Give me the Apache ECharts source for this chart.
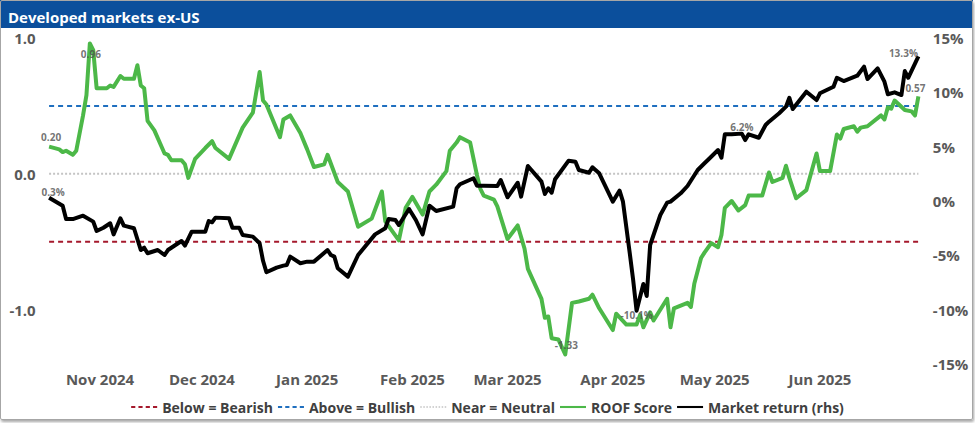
<!DOCTYPE html>
<html>
<head>
<meta charset="utf-8">
<script src="https://cdn.jsdelivr.net/npm/echarts@6/dist/echarts.min.js"></script>
<style>
html,body{margin:0;padding:0;background:#fff;}
#chart{position:absolute;left:0;top:0;width:975px;height:423px;}
#frame{position:absolute;left:0;top:0;width:971px;height:418px;border:1px solid #a6a6a6;border-radius:2px;box-shadow:1px 2px 3px rgba(0,0,0,0.35);pointer-events:none;}
</style>
</head>
<body>
<div id="chart"></div>
<div id="frame"></div>
<script>
// x values are day offsets from 2024-11-01
const monthTicks = [0, 30, 61, 92, 120, 151, 181, 212];
const monthLabels = ['Nov 2024', 'Dec 2024', 'Jan 2025', 'Feb 2025', 'Mar 2025', 'Apr 2025', 'May 2025', 'Jun 2025'];

const roofDays = [
  -15,-12,-11,-10,-8,-7,-5,-4,-3,-2,
  -1,2,3,4,6,7,10,11,12,13,
  14,16,19,20,21,24,25,26,28,31,
  33,34,38,42,45,47,48,49,53,54,
  56,59,61,63,66,67,70,73,76,80,
  83,84,88,90,92,95,97,99,102,103,
  105,106,109,111,112,113,116,117,120,123,
  125,126,130,131,132,133,135,137,139,141,
  144,145,147,151,152,155,158,159,160,162,
  163,167,168,169,173,174,175,177,178,180,
  182,183,184,186,188,190,191,195,197,198,
  201,202,203,205,208,211,212,215,217,218,
  219,222,223,224,226,230,231,232,233,234,
  237,239,240,241
];
const roofValues = [
  0.20,0.18,0.16,0.17,0.14,0.17,0.43,0.58,0.96,0.91,
  0.63,0.63,0.65,0.64,0.72,0.70,0.70,0.80,0.65,0.63,
  0.39,0.32,0.15,0.14,0.10,0.10,0.07,-0.03,0.11,0.19,
  0.24,0.19,0.11,0.34,0.45,0.75,0.54,0.51,0.27,0.40,
  0.43,0.30,0.18,0.05,0.07,0.14,-0.06,-0.13,-0.39,-0.33,
  -0.13,-0.35,-0.49,-0.25,-0.17,-0.30,-0.13,-0.08,0.02,0.17,
  0.23,0.27,0.23,-0.01,-0.11,-0.16,-0.19,-0.24,-0.48,-0.38,
  -0.55,-0.70,-0.92,-1.06,-1.05,-1.21,-1.22,-1.33,-0.95,-0.94,
  -0.92,-0.89,-0.99,-1.15,-1.03,-1.11,-1.11,-1.04,-1.13,-1.02,
  -1.08,-0.92,-1.13,-0.99,-0.95,-0.98,-0.81,-0.62,-0.58,-0.51,
  -0.54,-0.45,-0.25,-0.20,-0.27,-0.23,-0.16,-0.16,0.01,-0.06,
  -0.03,0.06,-0.03,-0.18,-0.12,0.15,0.02,0.02,0.29,0.26,
  0.33,0.35,0.31,0.34,0.35,0.43,0.40,0.49,0.48,0.54,
  0.47,0.46,0.43,0.57
];

const retDays = [
  -15,-13,-11,-10,-8,-5,-2,-1,1,3,
  4,6,7,10,12,13,14,17,19,20,
  24,25,27,31,32,33,34,38,39,41,
  42,45,47,48,49,52,54,55,56,59,
  61,63,67,68,69,70,73,76,78,81,
  84,85,87,88,91,93,95,97,99,104,
  105,106,110,111,113,117,118,120,123,124,
  126,130,131,132,133,134,138,140,141,144,
  145,147,151,153,154,156,157,158,160,161,
  162,165,167,168,171,173,176,178,179,182,
  183,184,186,189,190,191,194,196,197,200,
  202,203,204,208,211,212,214,216,217,219,
  223,225,226,229,231,232,234,236,237,238,
  241
];
const retValues = [
  0.3,-0.06,-0.43,-1.66,-1.66,-1.35,-1.9,-2.76,-2.46,-2.05,
  -3.07,-1.59,-2.27,-2.51,-4.51,-4.3,-4.81,-4.51,-4.97,-4.51,
  -3.68,-4.11,-2.82,-2.82,-1.84,-1.96,-1.53,-1.59,-2.46,-2.46,
  -3.13,-3.28,-3.89,-5.5,-6.56,-6.13,-5.95,-5.89,-5.12,-5.73,
  -5.58,-5.58,-4.51,-4.97,-5.12,-6.19,-6.96,-4.97,-4.2,-3.07,
  -2.51,-1.66,-1.75,-2.21,-0.74,-1.75,-3.07,-0.43,-0.92,-0.52,
  1.17,1.54,2.09,1.41,1.41,1.38,1.93,0.34,1.68,0.4,
  3.22,1.78,0.64,1.17,0.76,2.0,3.71,3.62,2.85,2.6,
  3.1,2.55,-0.06,0.95,-0.06,-4.81,-7.27,-10.1,-7.64,-8.74,
  -4.05,-1.29,-0.15,-0.06,0.71,1.38,2.85,3.47,3.77,4.69,
  3.98,6.14,6.14,6.2,5.61,6.14,5.82,6.99,7.3,8.07,
  8.68,9.5,8.46,10.06,9.29,9.91,10.21,10.52,11.34,11.04,
  11.53,12.36,11.22,12.2,10.98,9.82,10.0,9.75,11.96,11.34,
  13.3
];

const bearishLevel = -0.5;
const bullishLevel = 0.5;
const neutralLevel = 0;
const levelSpan = [-15, 241];

const roofLabelDays = [-15, -3, 137, 241];
const retLabelDays = [-15, 158, 189, 241];

const leftTicks = [-1, 0, 1];

// ---- build ----
const FONT = "'Open Sans', 'Noto Sans', sans-serif";
const GREY = '#595959';
const C_BEAR = '#a5192c', C_BULL = '#1f6fbf', C_NEUT = '#c4c4c4', C_ROOF = '#4cb848', C_RET = '#000000';

const roofData = roofDays.map((d, i) => [d, roofValues[i]]);
const retData = retDays.map((d, i) => [d, retValues[i]]);

const roofLabelPlace = {
  '-15': { position: 'top', distance: 4, offset: [2, 0] },
  '-3': { position: 'bottom', distance: 5, offset: [1, 0] },
  '137': { position: 'top', distance: 4, offset: [1, 0] },
  '241': { position: 'top', distance: 3, offset: [-3, 0] }
};
const retLabelPlace = {
  '-15': { position: 'top', distance: 0, offset: [4, 0] },
  '158': { position: 'top', distance: 0, offset: [0, 10] },
  '189': { position: 'top', distance: 1, offset: [0, 0] },
  '241': { position: 'left', distance: 0, offset: [0, -3] }
};
const labelStyle = { show: true, color: '#505050', fontSize: 10, fontFamily: FONT, fontWeight: 'bold' };

const roofLabelData = roofLabelDays.map(d => {
  const v = roofValues[roofDays.indexOf(d)];
  return { value: [d, v], label: Object.assign({}, labelStyle, roofLabelPlace[String(d)], { formatter: v.toFixed(2) }) };
});
const retLabelData = retLabelDays.map(d => {
  const v = retValues[retDays.indexOf(d)];
  return { value: [d, v], label: Object.assign({}, labelStyle, retLabelPlace[String(d)], { formatter: v.toFixed(1) + '%' }) };
});

const levelLine = (name, level, color, dash, width) => ({
  name: name, type: 'line', yAxisIndex: 0, symbol: 'none', silent: true, z: 1,
  data: levelSpan.map(d => [d, level]),
  lineStyle: { color: color, width: width, type: dash },
  itemStyle: { color: color }
});

const ICON_DASH = 'path://M0,0h4v2h-4z M7,0h4v2h-4z M14,0h4v2h-4z M21,0h4v2h-4z';
const ICON_DOT = 'path://M0,0h1.5v1.5h-1.5z M3,0h1.5v1.5h-1.5z M6,0h1.5v1.5h-1.5z M9,0h1.5v1.5h-1.5z M12,0h1.5v1.5h-1.5z M15,0h1.5v1.5h-1.5z M18,0h1.5v1.5h-1.5z M21,0h1.5v1.5h-1.5z M24,0h1.5v1.5h-1.5z';
const ICON_SOLID = 'path://M0,0h25v2h-25z';

const chart = echarts.init(document.getElementById('chart'), null, { renderer: 'svg' });
chart.setOption({
  animation: false,
  textStyle: { fontFamily: FONT },
  graphic: [{
    type: 'rect', left: 0, top: 0, z: 0,
    shape: { width: 973, height: 28 },
    style: { fill: '#0b4f9c' }
  }],
  title: {
    text: 'Developed markets ex-US', left: 3, top: 4,
    textStyle: { color: '#ffffff', fontSize: 15, fontWeight: 'bold', fontFamily: FONT }
  },
  grid: { left: 45.7, right: 53.2, top: 38, bottom: 59, containLabel: false, outerBoundsMode: 'none' },
  legend: {
    left: 'center', bottom: 4, itemWidth: 26, itemHeight: 10, itemGap: 5,
    symbolKeepAspect: true,
    data: [
      { name: 'Below = Bearish', icon: ICON_DASH },
      { name: 'Above = Bullish', icon: ICON_DASH },
      { name: 'Near = Neutral', icon: ICON_DOT },
      { name: 'ROOF Score', icon: ICON_SOLID },
      { name: 'Market return (rhs)', icon: ICON_SOLID }
    ],
    textStyle: { color: '#404040', fontSize: 14, fontWeight: 'bold', fontFamily: FONT },
    selectedMode: false
  },
  xAxis: {
    type: 'value', min: -16, max: 242,
    axisLine: { show: false }, axisTick: { show: false }, splitLine: { show: false },
    axisLabel: {
      customValues: monthTicks,
      formatter: v => monthLabels[monthTicks.indexOf(v)] || '',
      color: GREY, fontSize: 15, fontWeight: 'bold', fontFamily: FONT, margin: 7
    }
  },
  yAxis: [{
    type: 'value', min: -1.4, max: 1.0, interval: 0.2, position: 'left',
    axisLine: { show: false }, axisTick: { show: false }, splitLine: { show: false },
    axisLabel: {
      customValues: leftTicks,
      formatter: v => v.toFixed(1),
      color: GREY, fontSize: 15, fontWeight: 'bold', fontFamily: FONT, margin: 10
    }
  }, {
    type: 'value', min: -15, max: 15, interval: 5, position: 'right',
    axisLine: { show: false }, axisTick: { show: false }, splitLine: { show: false },
    axisLabel: {
      formatter: '{value}%',
      color: GREY, fontSize: 15, fontWeight: 'bold', fontFamily: FONT, margin: 11
    }
  }],
  series: [
    levelLine('Below = Bearish', bearishLevel, C_BEAR, [5, 4], 2),
    levelLine('Above = Bullish', bullishLevel, C_BULL, [5, 4], 2),
    levelLine('Near = Neutral', neutralLevel, C_NEUT, [2, 2], 2),
    {
      name: 'ROOF Score', type: 'line', yAxisIndex: 0, symbol: 'none', z: 3,
      data: roofData,
      lineStyle: { color: C_ROOF, width: 4, join: 'round' },
      itemStyle: { color: C_ROOF }
    },
    {
      name: 'Market return (rhs)', type: 'line', yAxisIndex: 1, symbol: 'none', z: 4,
      data: retData,
      lineStyle: { color: C_RET, width: 4, join: 'round' },
      itemStyle: { color: C_RET }
    },
    {
      name: 'roofLabels', type: 'scatter', yAxisIndex: 0, symbolSize: 1, silent: true, z: 5,
      itemStyle: { color: 'rgba(0,0,0,0)' }, data: roofLabelData
    },
    {
      name: 'retLabels', type: 'scatter', yAxisIndex: 1, symbolSize: 1, silent: true, z: 5,
      itemStyle: { color: 'rgba(0,0,0,0)' }, data: retLabelData
    }
  ]
});
</script>
</body>
</html>
